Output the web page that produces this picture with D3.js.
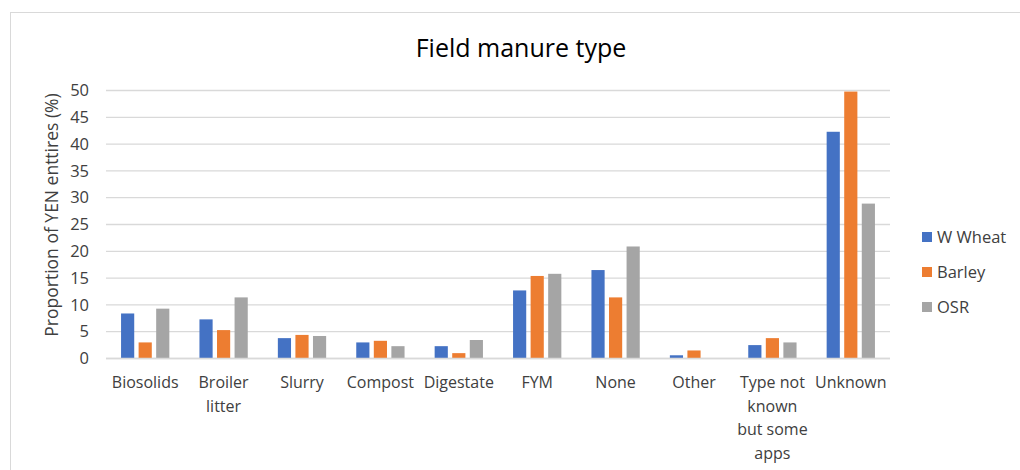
<!DOCTYPE html>
<html><head><meta charset="utf-8">
<script src="https://cdn.jsdelivr.net/npm/d3@7"></script>
<style>body{margin:0;background:#fff;} text{font-family:"Open Sans","Noto Sans",sans-serif;fill:#404040;}</style>
</head><body>
<svg id="c" width="1020" height="470"></svg>
<script>
const categories = ["Biosolids","Broiler litter","Slurry","Compost","Digestate","FYM","None","Other","Type not known but some apps","Unknown"];
const categoryLines = [["Biosolids"],["Broiler","litter"],["Slurry"],["Compost"],["Digestate"],["FYM"],["None"],["Other"],["Type not","known","but some","apps"],["Unknown"]];
const series = ["W Wheat","Barley","OSR"];
const wWheat = [8.4, 7.3, 3.8, 3.0, 2.3, 12.7, 16.5, 0.6, 2.5, 42.3];
const barley = [3.0, 5.3, 4.4, 3.3, 1.0, 15.4, 11.4, 1.5, 3.8, 49.8];
const osr    = [9.3, 11.4, 4.2, 2.3, 3.45, 15.8, 20.9, 0, 3.0, 28.9];
const yTicks = [0,5,10,15,20,25,30,35,40,45,50];
const colors = ["#4472c4","#ed7d31","#a5a5a5"];
const seriesValues = [wWheat, barley, osr];

const svg = d3.select("#c");
svg.append("rect").attr("x",10.5).attr("y",12.5).attr("width",1020).attr("height",470).attr("fill","none").attr("stroke","#d9d9d9");

const pLeft=106, pRight=890, pTop=90.5, pBottom=358.5;
const x = d3.scaleBand().domain(categories).range([pLeft,pRight]).paddingInner(0.384).paddingOuter(0.192);
const xs = d3.scaleBand().domain(series).range([0,x.bandwidth()]).paddingInner(0.25);
const y = d3.scaleLinear().domain([0,50]).range([pBottom,pTop]);

svg.append("text").attr("x",521).attr("y",57).attr("text-anchor","middle").style("font-size","25px").style("fill","#000").text("Field manure type");

// grid
svg.append("g").selectAll("line").data(yTicks).join("line")
  .attr("x1",pLeft).attr("x2",pRight).attr("y1",d=>y(d)).attr("y2",d=>y(d))
  .attr("stroke","#d9d9d9").attr("stroke-width",1.3);

// y axis labels
const ya = svg.append("g").attr("transform",`translate(${pLeft},0)`).call(d3.axisLeft(y).tickValues(yTicks).tickSize(0).tickPadding(17));
ya.select(".domain").remove();
ya.selectAll("text").style("font-size","16.5px").style("fill","#404040").style("font-family",'"Open Sans","Noto Sans",sans-serif');

svg.append("text").attr("transform","translate(58,215) rotate(-90)").attr("text-anchor","middle").style("font-size","17.5px").text("Proportion of YEN enttires (%)");

// bars
const rows = categories.map((c,i)=>({c, vals: series.map((s,j)=>({s, v: seriesValues[j][i], col: colors[j]}))}));
const g = svg.append("g").selectAll("g").data(rows).join("g").attr("transform",d=>`translate(${x(d.c)},0)`);
g.selectAll("rect").data(d=>d.vals).join("rect")
  .attr("x",d=>xs(d.s)).attr("width",xs.bandwidth())
  .attr("y",d=>y(d.v)).attr("height",d=>y(0)-y(d.v)).attr("fill",d=>d.col);

// baseline
svg.append("line").attr("x1",pLeft).attr("x2",pRight).attr("y1",y(0)).attr("y2",y(0)).attr("stroke","#d9d9d9").attr("stroke-width",1.3);

// x labels
const xl = svg.append("g").selectAll("text").data(categories).join("text")
  .attr("x",d=>x(d)+x.bandwidth()/2).attr("y",388).attr("text-anchor","middle").style("font-size","16px");
xl.each(function(d,i){
  const t=d3.select(this);
  categoryLines[i].forEach((ln,k)=>t.append("tspan").attr("x",x(d)+x.bandwidth()/2).attr("dy",k===0?0:23.5).text(ln));
});

// legend
const lg = svg.append("g").selectAll("g").data(series).join("g").attr("transform",(d,i)=>`translate(922,${237+i*35})`);
lg.append("rect").attr("x",0).attr("y",-5).attr("width",10).attr("height",10).attr("fill",(d,i)=>colors[i]);
lg.append("text").attr("x",15).attr("y",6).style("font-size","16.5px").text(d=>d);
</script>
</body></html>
